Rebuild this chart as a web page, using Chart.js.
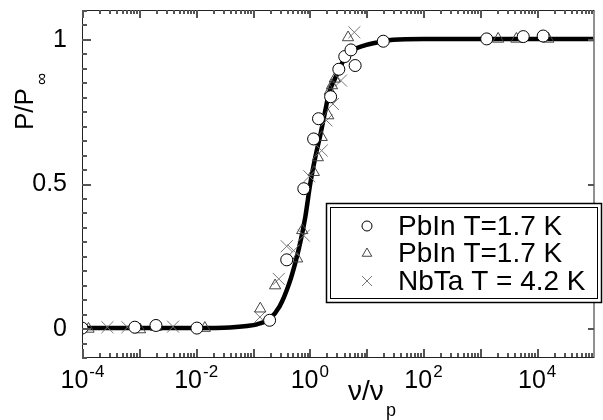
<!DOCTYPE html>
<html>
<head>
<meta charset="utf-8">
<script src="https://cdn.jsdelivr.net/npm/chart.js@4.4.1/dist/chart.umd.min.js"></script>
<style>
  html, body { margin: 0; padding: 0; background: #fff; }
  #chart { display: block; }
</style>
</head>
<body>
<canvas id="chart" width="603" height="420"></canvas>
<script>
// PbIn T=1.7 K (circles)
const circleX = [1e-4, 8.5e-4, 2.0e-3, 1.05e-2, 0.2, 0.40, 0.80, 1.19, 1.45, 2.37, 3.3, 4.2, 5.4, 6.4, 20, 1.32e3, 5.8e3, 1.3e4];
const circleY = [0.0, 0.003, 0.009, 0.0, 0.027, 0.236, 0.482, 0.654, 0.724, 0.80, 0.895, 0.939, 0.962, 0.908, 0.992, 1.0, 1.008, 1.01];

// PbIn T=1.7 K (triangles)
const triangleX = [1.3e-4, 1.05e-3, 2.0e-3, 1.45e-2, 0.137, 0.25, 0.61, 0.75, 1.2, 1.41, 1.65, 2.15, 2.3, 2.5, 2.8, 4.8, 2.1e3, 4.4e3, 1.6e4];
const triangleY = [-0.003, -0.005, 0.003, 0.0, 0.067, 0.147, 0.24, 0.338, 0.539, 0.59, 0.66, 0.735, 0.82, 0.839, 0.862, 1.005, 1.0, 1.0, 1.0];

// NbTa T = 4.2 K (crosses)
const crossX = [2.8e-4, 6.3e-4, 4.0e-3, 0.135, 0.29, 0.40, 0.53, 0.80, 1.0, 1.65, 2.0, 2.6, 3.6, 6.2];
const crossY = [0.003, 0.003, 0.005, 0.038, 0.17, 0.283, 0.268, 0.32, 0.525, 0.614, 0.718, 0.775, 0.856, 1.023];

// fitted curve
const curveX = [1e-4, 1e-3, 1e-2, 0.04, 0.08, 0.12, 0.2, 0.3, 0.44, 0.574, 0.70, 0.85, 1.04, 1.27, 1.55, 1.9, 2.2, 3.3, 4.2, 5.4, 9.2, 16, 30, 100, 1e3, 1e4, 1e5];
const curveY = [0, 0, 0, 0.002, 0.007, 0.013, 0.032, 0.075, 0.153, 0.23, 0.30, 0.385, 0.50, 0.59, 0.665, 0.75, 0.81, 0.89, 0.935, 0.958, 0.977, 0.988, 0.997, 1, 1, 1, 1];

const xTickExponents = [-4, -2, 0, 2, 4];
const yTicks = [0, 0.5, 1];
const yTickLabels = ["0", "0.5", "1"];
const legendLabels = ["PbIn T=1.7 K", "PbIn T=1.7 K", "NbTa T = 4.2 K"];

const FONT = "'Liberation Sans', Arial, Helvetica, sans-serif";

const toPoints = (xs, ys) => xs.map((x, i) => ({ x, y: ys[i] }));

const seriesStyles = [
  { pointStyle: "circle", radius: 6, borderColor: "#000", backgroundColor: "#fff" },
  { pointStyle: "triangle", radius: 6.5, borderColor: "#444", backgroundColor: "rgba(255,255,255,0)" },
  { pointStyle: "crossRot", radius: 8.5, borderColor: "#777", backgroundColor: "rgba(255,255,255,0)" }
];

const framePlugin = {
  id: "frame",
  afterDraw(chart) {
    const { ctx, chartArea: a, scales: { x, y } } = chart;
    ctx.save();
    ctx.lineWidth = 1;
    ctx.strokeStyle = "#222";
    ctx.strokeRect(a.left + 0.5, a.top + 0.5, a.right - a.left, a.bottom - a.top);

    // inward ticks, drawn as thin rectangles
    ctx.fillStyle = "#555";
    const L = Math.round(a.left), R = Math.round(a.right);
    const T = Math.round(a.top), B = Math.round(a.bottom);
    for (let e = -4; e < 5; e++) {
      for (let m = 1; m < 10; m++) {
        const px = Math.round(x.getPixelForValue(m * Math.pow(10, e)));
        const len = m === 1 ? 8 : 4;
        ctx.fillRect(px, B - len, 2, len);
        ctx.fillRect(px, T, 2, len);
      }
    }
    for (let i = -2; i <= 22; i++) {
      const py = Math.round(y.getPixelForValue(i * 0.05));
      const major = i % 10 === 0;
      ctx.fillRect(L, py, major ? 9 : 5, 2);
      if (major) ctx.fillRect(R - 6, py, 6, 2);
    }

    ctx.fillStyle = "#000";
    ctx.font = "25px " + FONT;
    ctx.textAlign = "right";
    ctx.textBaseline = "middle";
    yTicks.forEach((v, i) => {
      ctx.fillText(yTickLabels[i], a.left - 15, y.getPixelForValue(v) + 1);
    });

    // x tick labels: 10 with a raised exponent
    ctx.textBaseline = "alphabetic";
    ctx.textAlign = "left";
    xTickExponents.forEach(e => {
      const px = x.getPixelForValue(Math.pow(10, e));
      ctx.font = "25px " + FONT;
      const wBase = ctx.measureText("10").width;
      ctx.font = "17px " + FONT;
      const wExp = ctx.measureText(String(e)).width;
      const start = px - (wBase + wExp) / 2;
      ctx.font = "25px " + FONT;
      ctx.fillText("10", start, a.bottom + 31);
      ctx.font = "17px " + FONT;
      ctx.fillText(String(e), start + wBase + 1, a.bottom + 20);
    });

    // axis titles
    ctx.font = "28px " + FONT;
    ctx.fillText("\u03bd/\u03bd", 348, 400);
    ctx.font = "18px " + FONT;
    ctx.fillText("p", 386, 416);

    ctx.save();
    ctx.translate(33, 130);
    ctx.rotate(-Math.PI / 2);
    ctx.font = "26px " + FONT;
    const wTitle = ctx.measureText("P/P").width;
    ctx.fillText("P/P", 0, 0);
    ctx.font = "17px " + FONT;
    ctx.fillText("\u221e", wTitle + 3, 14);
    ctx.restore();

    // legend with double border
    const lx = 326, ly = 203, lw = 276, lh = 100;
    ctx.fillStyle = "#fff";
    ctx.fillRect(lx, ly, lw, lh);
    ctx.strokeStyle = "#000";
    ctx.lineWidth = 1.5;
    ctx.strokeRect(lx + 0.5, ly + 0.5, lw - 1, lh - 1);
    ctx.lineWidth = 1;
    ctx.strokeRect(lx + 4.5, ly + 4.5, lw - 9, lh - 9);

    const legendRadius = [5, 5.5, 7];
    legendLabels.forEach((label, i) => {
      const rowY = ly + 23 + i * 27.5;
      const st = seriesStyles[i];
      ctx.strokeStyle = st.borderColor;
      ctx.fillStyle = st.backgroundColor;
      ctx.lineWidth = 1;
      Chart.helpers.drawPoint(ctx, {
        pointStyle: st.pointStyle, radius: legendRadius[i], rotation: 0, borderWidth: 1
      }, 367, rowY);
      ctx.fillStyle = "#000";
      ctx.font = "28px " + FONT;
      ctx.textBaseline = "middle";
      ctx.fillText(label, 398, rowY + 1);
    });
    ctx.restore();
  }
};

const scatterSet = (label, xs, ys, st, order) => ({
  label,
  data: toPoints(xs, ys),
  showLine: false,
  pointStyle: st.pointStyle,
  pointRadius: st.radius,
  pointBorderColor: st.borderColor,
  pointBackgroundColor: st.backgroundColor,
  pointBorderWidth: 1,
  order
});

new Chart(document.getElementById("chart"), {
  type: "scatter",
  data: {
    datasets: [
      {
        label: "fit",
        data: toPoints(curveX, curveY),
        showLine: true,
        borderColor: "#000",
        borderWidth: 4.5,
        pointRadius: 0,
        cubicInterpolationMode: "monotone",
        order: 4
      },
      scatterSet(legendLabels[0], circleX, circleY, seriesStyles[0], 1),
      scatterSet(legendLabels[1], triangleX, triangleY, seriesStyles[1], 2),
      scatterSet(legendLabels[2], crossX, crossY, seriesStyles[2], 3)
    ]
  },
  options: {
    responsive: false,
    animation: false,
    devicePixelRatio: 1,
    layout: { padding: { left: 82, right: -1, top: 10, bottom: 63 } },
    plugins: { legend: { display: false }, tooltip: { enabled: false } },
    scales: {
      x: { type: "logarithmic", min: 1e-4, max: 1e5, display: false },
      y: { type: "linear", min: -0.1, max: 1.1, display: false }
    }
  },
  plugins: [framePlugin]
});
</script>
</body>
</html>
